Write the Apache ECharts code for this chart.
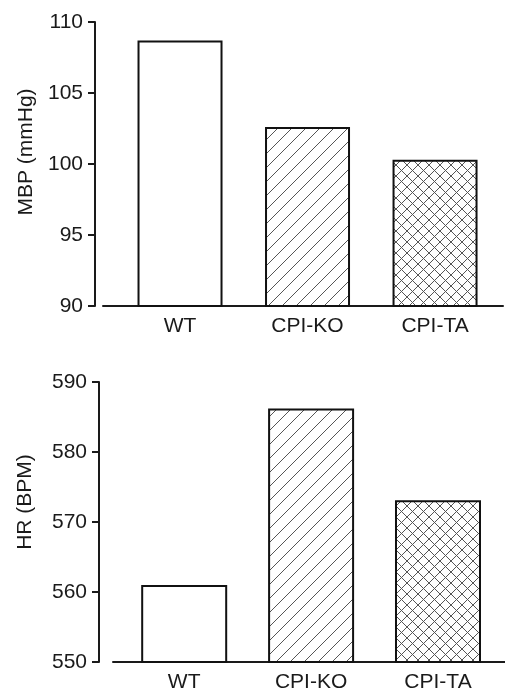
<!DOCTYPE html>
<html>
<head>
<meta charset="utf-8">
<script src="https://cdn.jsdelivr.net/npm/echarts@6/dist/echarts.min.js"></script>
<style>
html,body{margin:0;padding:0;background:#fff;}
#chart{width:505px;height:693px;}
</style>
</head>
<body>
<div id="chart"></div>
<script>
const categories = ['WT', 'CPI-KO', 'CPI-TA'];
const mbpValues = [108.7, 102.6, 100.3];
const hrValues = [561.0, 586.2, 573.1];
const mbpAxis = { name: 'MBP (mmHg)', min: 90, max: 110, interval: 5 };
const hrAxis = { name: 'HR (BPM)', min: 550, max: 590, interval: 10 };

function hatch(size, forward, backward) {
  const c = document.createElement('canvas');
  c.width = size; c.height = size;
  const g = c.getContext('2d');
  g.fillStyle = '#fff';
  g.fillRect(0, 0, size, size);
  g.strokeStyle = '#555';
  g.lineWidth = 1;
  g.beginPath();
  if (forward) {
    g.moveTo(-1, size + 1); g.lineTo(size + 1, -1);
    g.moveTo(-2, 2); g.lineTo(2, -2);
    g.moveTo(size - 2, size + 2); g.lineTo(size + 2, size - 2);
  }
  if (backward) {
    g.moveTo(-1, -1); g.lineTo(size + 1, size + 1);
    g.moveTo(size - 2, -2); g.lineTo(size + 2, 2);
    g.moveTo(-2, size - 2); g.lineTo(2, size + 2);
  }
  g.stroke();
  return c;
}

const fills = [
  '#ffffff',
  { image: hatch(14, true, false), repeat: 'repeat' },
  { image: hatch(11, true, true), repeat: 'repeat' }
];

const font = "'Liberation Sans', Arial, Helvetica, sans-serif";
const textColor = '#1a1a1a';
const lineColor = '#1a1a1a';

function xAxisCfg(gridIndex, min, max) {
  return {
    type: 'value', gridIndex, min, max,
    axisLine: { show: true, onZero: false, lineStyle: { color: lineColor, width: 2 } },
    axisTick: { show: false },
    splitLine: { show: false },
    axisLabel: {
      customValues: [0, 1, 2],
      formatter: v => categories[Math.round(v)],
      color: textColor, fontFamily: font, fontSize: 21, margin: 10
    }
  };
}

function yAxisCfg(gridIndex, ax, offset, nameGap, shift) {
  return {
    type: 'value', gridIndex, min: ax.min, max: ax.max, interval: ax.interval,
    offset,
    name: ax.name, nameLocation: 'middle', nameGap,
    nameTextStyle: { color: textColor, fontFamily: font, fontSize: 21, padding: [0, 0, 0, shift] },
    axisLine: { show: true, onZero: false, lineStyle: { color: lineColor, width: 2 } },
    axisTick: { show: true, length: 7, lineStyle: { color: lineColor, width: 2 } },
    splitLine: { show: false },
    axisLabel: { color: textColor, fontFamily: font, fontSize: 21, margin: 12 }
  };
}

function barData(values) {
  return values.map((v, i) => ({
    value: [i, v],
    itemStyle: { color: fills[i], borderColor: '#111', borderWidth: 2 }
  }));
}

const chart = echarts.init(document.getElementById('chart'), null, { renderer: 'canvas' });
chart.setOption({
  animation: false,
  backgroundColor: '#fff',
  grid: [
    { left: 103, top: 22, width: 400, height: 284 },
    { left: 113, top: 382, width: 392, height: 282 }
  ],
  xAxis: [
    xAxisCfg(0, -0.604, 2.533),
    xAxisCfg(1, -0.561, 2.528)
  ],
  yAxis: [
    yAxisCfg(0, mbpAxis, 8, 57, 24),
    yAxisCfg(1, hrAxis, 14, 63, 40)
  ],
  series: [
    { type: 'bar', xAxisIndex: 0, yAxisIndex: 0, barWidth: 85, data: barData(mbpValues) },
    { type: 'bar', xAxisIndex: 1, yAxisIndex: 1, barWidth: 86, data: barData(hrValues) }
  ]
});
</script>
</body>
</html>
